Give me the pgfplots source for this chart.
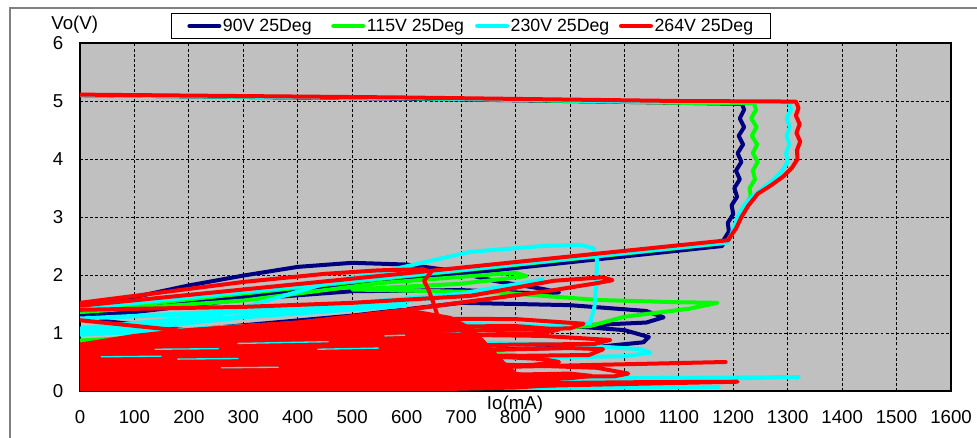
\documentclass[border=0pt]{standalone}
\usepackage{pgfplots}
\pgfplotsset{compat=1.18}
\usepackage{fontspec}
\setmainfont{Liberation Sans}
\definecolor{bgc}{HTML}{C0C0C0}
\definecolor{navy}{HTML}{000080}
\definecolor{lime}{HTML}{00FF00}
\definecolor{aqua}{HTML}{00FFFF}
\definecolor{rd}{HTML}{FF0000}
\begin{document}
\begin{tikzpicture}
\path[use as bounding box] (-60pt,-35.25pt) rectangle (672.75pt,293.25pt);
\draw[gray, line width=1.2pt] (-52.5pt,-60pt) -- (-52.5pt,287.25pt) -- (720pt,287.25pt);
\begin{axis}[
  at={(0pt,0pt)}, anchor=south west,
  scale only axis, width=653.25pt, height=261pt,
  xmin=0, xmax=1600, ymin=0, ymax=6,
  xtick={0,100,...,1600}, ytick={0,1,...,6},
  /pgf/number format/1000 sep={},
  /pgf/number format/assume math mode=true,
  grid=major,
  major grid style={black, line width=0.6pt, dash pattern=on 2.2pt off 1.6pt},
  axis background/.style={fill=bgc},
  axis line style={line width=1.5pt},
  major tick length=0pt,
  tick label style={font=\fontsize{14}{16}\selectfont},
  xticklabel style={yshift=-11pt},
  yticklabel style={xshift=-9pt},
  xlabel={Io(mA)},
  xlabel style={at={(axis description cs:0.4994,-0.04)}, anchor=center, font=\fontsize{14}{16}\selectfont},
  ylabel={Vo(V)},
  ylabel style={at={(axis description cs:-0.006,1.052)}, anchor=center, rotate=-90, font=\fontsize{14}{16}\selectfont},
  legend columns=4,
  legend style={at={(axis description cs:0.449,1.049)}, anchor=center, draw=black, line width=0.8pt, fill=white,
    font=\fontsize{13.3}{15}\selectfont, column sep=0pt, inner xsep=12pt, inner ysep=3pt,
    nodes={inner sep=1.2pt}},
  legend image code/.code={\draw[line width=3.5pt, line cap=round] (1.75pt,0pt) -- (23.75pt,0pt);},
  every axis plot/.append style={line width=3pt, line join=round, line cap=round},
]
% ---- 90V ----
\addplot[navy] coordinates {(0,5.10) (600,5.04) (1100,4.97) (1216,4.95) (1220,4.85) (1212,4.7) (1220,4.55) (1210,4.4) (1218,4.25) (1208,4.1) (1215,3.95) (1205,3.8) (1212,3.65) (1202,3.5) (1207,3.35) (1197,3.2) (1200,3.05) (1190,2.9) (1192,2.75) (1182,2.6) (1180,2.5) (600,1.92) (0,1.32)};
\addlegendentry{\makebox[80pt][l]{90V 25Deg}}
\addplot[navy, forget plot] coordinates {(0,1.42) (100,1.62) (200,1.82) (300,1.99) (400,2.14) (500,2.21) (600,2.18) (680,2.08) (760,1.90) (850,1.76) (880,1.70) (850,1.68) (700,1.74) (500,1.72) (300,1.58) (0,1.25) (200,1.05) (500,1.30) (700,1.52) (900,1.48) (1040,1.38) (1072,1.27) (1040,1.18) (900,1.12) (1000,1.05) (1045,0.93) (1035,0.84) (950,0.76) (700,0.70) (400,0.55) (0,0.45) (300,0.32) (700,0.22) (950,0.17) (600,0.12) (0,0.05)};
% ---- 115V ----
\addplot[lime] coordinates {(0,5.10) (600,5.05) (1100,4.97) (1238,4.96) (1242,4.85) (1233,4.7) (1243,4.55) (1234,4.4) (1244,4.25) (1236,4.1) (1245,3.95) (1236,3.8) (1240,3.65) (1230,3.5) (1232,3.35) (1222,3.2) (1218,3.05) (1206,2.9) (1200,2.75) (1190,2.6) (1184,2.55) (600,1.98) (0,1.38)};
\addlegendentry{\makebox[80pt][l]{115V 25Deg}}
\addplot[lime, forget plot] coordinates {(0,1.36) (300,1.56) (550,1.86) (800,2.04) (820,1.98) (700,1.85) (500,1.75) (767,1.70) (950,1.57) (1100,1.53) (1171,1.52) (1120,1.42) (1000,1.28) (937,1.12) (800,1.05) (500,1.12) (0,0.87) (400,0.76) (800,0.62) (0,0.32) (600,0.16) (0,0.05)};
% ---- 230V ----
\addplot[aqua] coordinates {(0,5.10) (600,5.05) (1100,4.98) (1302,4.98) (1306,4.85) (1298,4.7) (1304,4.55) (1298,4.4) (1303,4.25) (1297,4.1) (1300,3.95) (1290,3.8) (1275,3.65) (1255,3.5) (1235,3.35) (1220,3.2) (1208,3.0) (1200,2.8) (1195,2.65) (1190,2.56) (600,1.99) (0,1.42)};
\addlegendentry{\makebox[80pt][l]{230V 25Deg}}
\addplot[aqua, forget plot] coordinates {(0,1.08) (250,1.30) (450,1.85) (600,2.15) (717,2.40) (850,2.50) (920,2.52) (943,2.46) (950,2.25) (948,1.8) (945,1.45) (937,1.17) (850,1.12) (500,1.22) (0,0.97) (300,1.27) (600,1.47) (0,1.25) (400,1.43) (700,1.68) (850,1.92) (650,1.60) (0,1.02) (500,0.88) (900,0.80) (1030,0.72) (1048,0.66) (1000,0.60) (700,0.55) (0,0.40) (600,0.30) (0,0.12) (700,0.16) (1000,0.22) (1320,0.24) (1100,0.20) (600,0.09) (1173,0.07) (0,0.02)};
% ---- 264V ----
\addplot[rd, fill=rd, forget plot] coordinates {(0,0) (0,0.80) (100,0.95) (200,1.05) (400,1.18) (550,1.30) (620,1.36) (680,1.26) (720,1.06) (740,0.86) (760,0.66) (780,0.46) (800,0.30) (850,0.20) (900,0.12) (800,0.06) (600,0.02) (0,0)} -- cycle;
\addplot[aqua, line width=1pt, forget plot] coordinates {(39,0.59) (149,0.60)};
\addplot[aqua, line width=1pt, forget plot] coordinates {(138,0.72) (254,0.73)};
\addplot[aqua, line width=1pt, forget plot] coordinates {(290,0.82) (456,0.85)};
\addplot[aqua, line width=1pt, forget plot] coordinates {(437,0.72) (548,0.74)};
\addplot[aqua, line width=1pt, forget plot] coordinates {(180,0.55) (290,0.56)};
\addplot[aqua, line width=1pt, forget plot] coordinates {(260,0.40) (364,0.41)};
\addplot[aqua, line width=1pt, forget plot] coordinates {(560,0.95) (700,1.00)};
\addplot[rd, forget plot] coordinates {(0,1.52) (150,1.70) (300,1.88) (450,2.02) (548,2.08) (630,2.10) (645,2.05) (632,1.90) (640,1.75) (648,1.55) (655,1.35) (660,1.10) (665,0.90)};
\addplot[rd, forget plot] coordinates {(0,1.22) (186,1.04) (400,1.18) (600,1.40) (864,1.73) (950,1.86) (978,1.91) (960,1.96) (870,1.90) (717,1.64) (500,1.52) (300,1.45) (0,1.40)};
\addplot[rd, forget plot] coordinates {(500,1.25) (800,1.24) (925,1.16) (900,1.08) (700,1.04)};
\addplot[rd, forget plot] coordinates {(500,1.10) (800,1.12) (880,1.06) (850,1.00) (650,0.95)};
\addplot[rd, forget plot] coordinates {(600,0.98) (850,0.95) (974,0.88) (945,0.81) (800,0.80) (700,0.78)};
\addplot[rd, forget plot] coordinates {(700,0.70) (900,0.74) (961,0.72) (935,0.62) (750,0.60)};
\addplot[rd, forget plot] coordinates {(650,0.65) (850,0.55) (880,0.50) (830,0.45) (650,0.40)};
\addplot[rd, forget plot] coordinates {(700,0.48) (950,0.40) (1007,0.30) (980,0.25) (800,0.26)};
\addplot[rd, forget plot] coordinates {(600,0.25) (900,0.30) (940,0.26) (900,0.22) (700,0.20)};
\addplot[rd, forget plot] coordinates {(600,0.38) (900,0.44) (1186,0.50)};
\addplot[rd, forget plot] coordinates {(700,0.12) (1000,0.15) (1208,0.16) (1000,0.12) (800,0.08)};
\addplot[rd] coordinates {(0,5.11) (600,5.06) (1100,5.00) (1315,4.99) (1320,4.88) (1315,4.75) (1322,4.6) (1316,4.45) (1323,4.3) (1317,4.15) (1318,4.0) (1308,3.85) (1292,3.7) (1270,3.55) (1245,3.4) (1228,3.2) (1215,3.0) (1205,2.8) (1196,2.68) (1191,2.6) (600,2.03) (0,1.47)};
\addlegendentry{264V 25Deg}
\end{axis}
\end{tikzpicture}
\end{document}
